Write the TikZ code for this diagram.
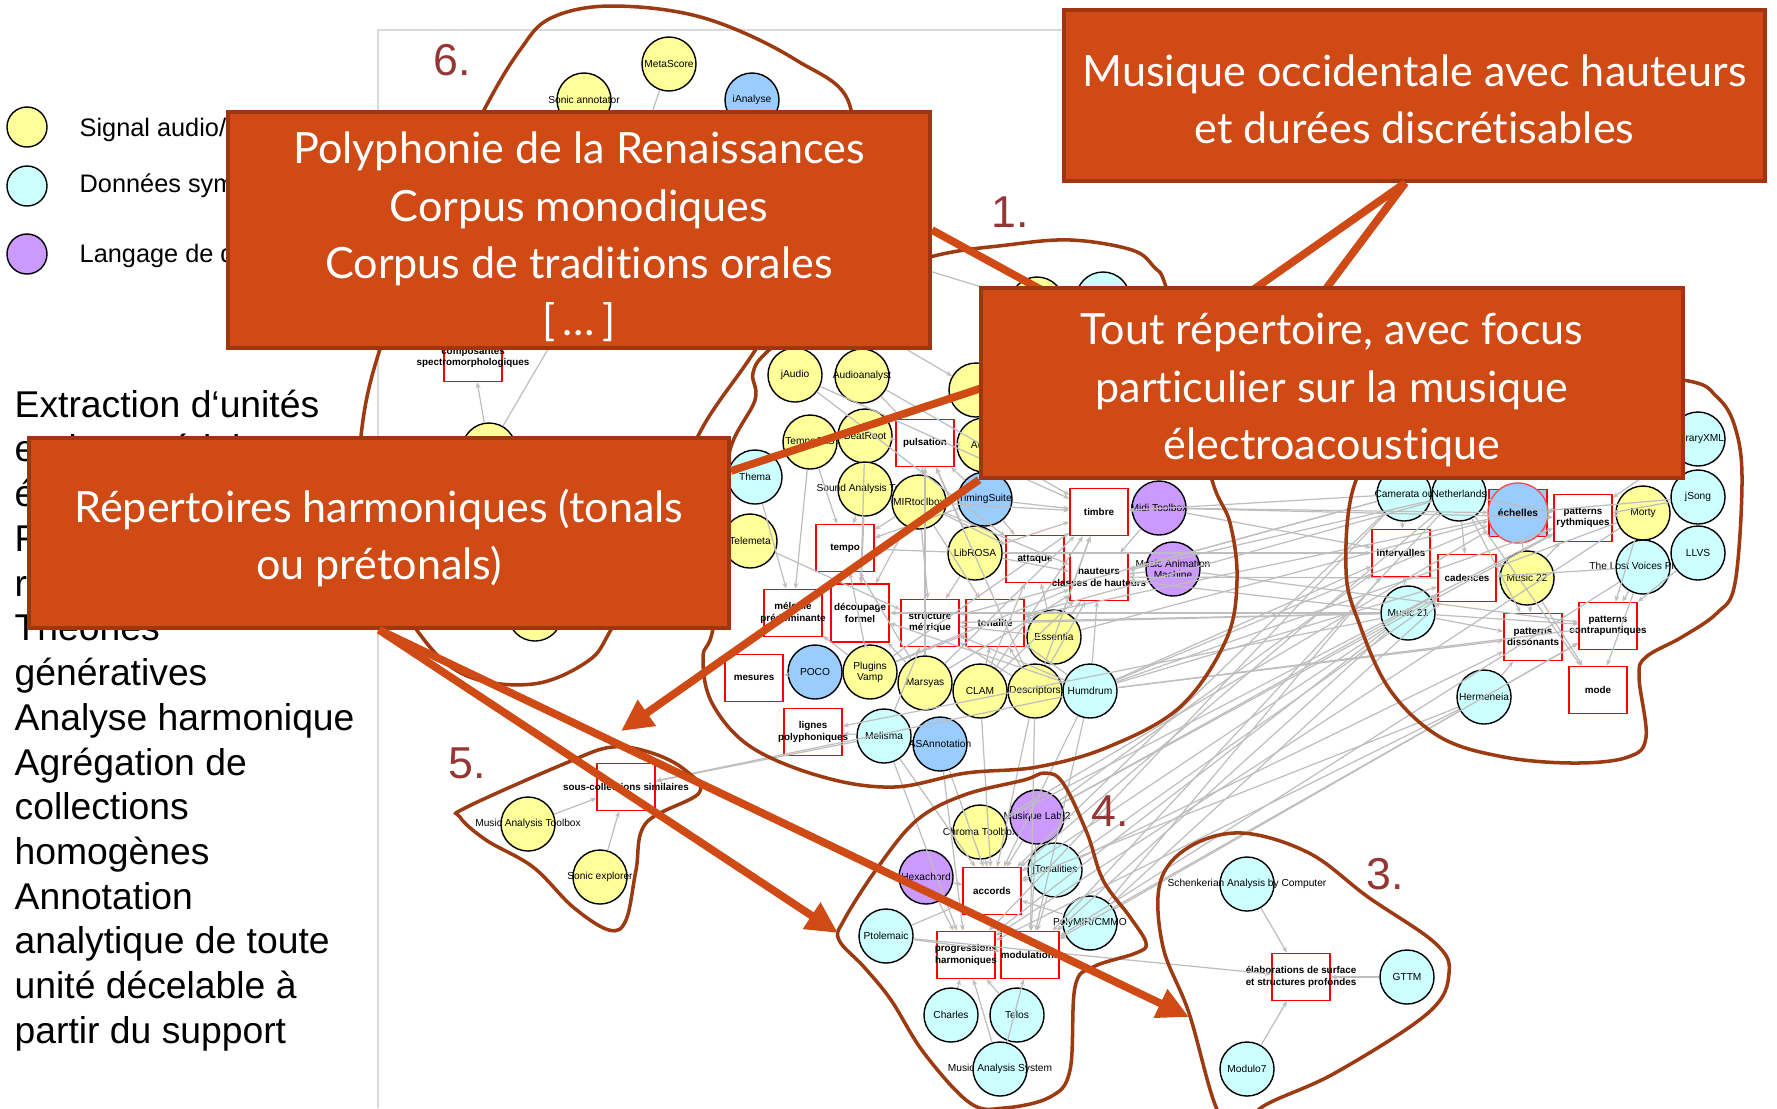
\documentclass[tikz,border=0pt]{standalone}
\usepackage{fontspec}
\usetikzlibrary{arrows.meta}
\setmainfont{Liberation Sans}
\newfontfamily\calloutfont[Ligatures=NoCommon]{Lato}

\definecolor{audioyellow}{HTML}{FFFF99}
\definecolor{symbcyan}{HTML}{CCFFFF}
\definecolor{langpurple}{HTML}{CC99FF}
\definecolor{annotblue}{HTML}{99CCFF}
\definecolor{calloutfill}{HTML}{D04A16}
\definecolor{calloutline}{HTML}{A0360F}
\definecolor{blobline}{HTML}{9C3A12}
\definecolor{numred}{HTML}{943634}
\definecolor{edgegray}{HTML}{BEBEBE}

\newcommand{\lb}[1]{\makebox[0pt]{#1}}

\begin{document}
\begin{tikzpicture}[x=0.01cm,y=-0.01cm]
    \tikzstyle{edge}=[draw=edgegray,line width=0.35pt,-{Stealth[length=1.7pt,width=1.4pt]}]
    \tikzstyle{circ}=[circle,line width=0.4pt,draw=black,minimum size=0.54cm,inner sep=0pt,align=center,font=\fontsize{2.9}{3.2}\selectfont]
    \tikzstyle{audio}=[circ,fill=audioyellow]
    \tikzstyle{symb}=[circ,fill=symbcyan]
    \tikzstyle{langage}=[circ,fill=langpurple]
    \tikzstyle{annot}=[circ,fill=annotblue]
    \tikzstyle{notion}=[rectangle,line width=0.45pt,draw=red,fill=white,minimum width=0.58cm,minimum height=0.47cm,inner sep=0pt,align=center,font=\fontsize{2.8}{3.2}\selectfont\bfseries]
    \tikzstyle{blob}=[draw=blobline,line width=1pt]
    \tikzstyle{callout}=[rectangle,draw=calloutline,fill=calloutfill,line width=1pt,inner sep=0pt]
    \tikzstyle{callouttext}=[text=white,inner sep=0pt,align=center,font=\calloutfont\fontsize{12.25}{16.3}\selectfont]
    \tikzstyle{pointer}=[draw=calloutfill,line width=2.2pt]
    \tikzstyle{pointerarrow}=[pointer,-{Triangle[length=9pt,width=8.5pt]}]
    \tikzstyle{number}=[text=numred,font=\fontsize{12.7}{14}\selectfont]
    \tikzstyle{legend}=[anchor=west,inner sep=0pt,font=\fontsize{7.2}{9}\selectfont]
    \tikzstyle{legendcirc}=[circle,line width=0.4pt,draw=black,minimum size=0.4cm,inner sep=0pt]

    \useasboundingbox (0,0) rectangle (1777,1108);

    \draw[draw=black!15,line width=0.4pt] (378,1108) -- (378,30) -- (1064,30);

    \node[legendcirc,fill=audioyellow] (legaudio) at (27,127) {};
    \node[legendcirc,fill=symbcyan]    (legsymb)  at (27,186) {};
    \node[legendcirc,fill=langpurple]  (leglang)  at (27,254) {};
    \node[legend] (txtaudio) at (79,130) {Signal audio/};
    \node[legend] (txtsymb)  at (79,186) {Données symboliques};
    \node[legend] (txtlang)  at (79,256) {Langage de description};

    \node[anchor=north west,inner sep=0pt,align=left,font=\fontsize{10.6}{12.72}\selectfont] (tasks) at (14,389) {%
        Extraction d‘unités\\et de matériel\\é\\R\\r\\Théories\\génératives\\Analyse harmonique\\Agrégation de\\collections\\homogènes\\Annotation\\analytique de toute\\unité décelable à\\partir du support};

    \node[audio] (metascore) at (669,64)  {\lb{MetaScore}};
    \node[audio] (sonicann)  at (584,100) {\lb{Sonic annotator}};
    \node[annot] (ianalyse)  at (752,100) {\lb{iAnalyse}};
    \node[notion] (compo)    at (473,358) {\lb{composantes}\\\lb{spectromorphologiques}};
    \node[audio] (sixa)      at (489,450) {};
    \node[audio] (sixb)      at (535,614) {};
    \coordinate (sixhub) at (600,260);
    \coordinate (sixout) at (600,170);

    \node[audio] (topa)      at (1037,304) {};
    \node[symb]  (topb)      at (1103,299) {};
    \node[audio] (jaudio)    at (795,375)  {\lb{jAudio}};
    \node[audio] (audiolab)  at (862,376)  {\lb{Audioanalyst}};
    \node[audio] (hidden)    at (976,390)  {};
    \node[audio] (tarsos)    at (810,442)  {\lb{TempoJAS}};
    \node[audio] (beatroot)  at (865,436)  {\lb{BeatRoot}};
    \node[notion] (pulsation) at (925,443) {\lb{pulsation}};
    \node[audio] (aubio)     at (984,445)  {\lb{Aubio}};
    \node[symb]  (thema)     at (755,477)  {\lb{Thema}};
    \node[audio] (telemeta)  at (750,541)  {\lb{Telemeta}};
    \node[audio] (sat)       at (865,489)  {\lb{Sound Analysis Tools}};
    \node[audio] (mirtool)   at (919,502)  {\lb{MIRtoolbox}};
    \node[annot] (timing)    at (985,499)  {\lb{TimingSuite}};
    \node[notion] (timbre)   at (1099,512) {\lb{timbre}};
    \node[langage] (midit)   at (1159,508) {\lb{Midi Toolbox}};
    \node[notion] (tempo)    at (845,548)  {\lb{tempo}};
    \node[audio] (librosa)   at (975,553)  {\lb{LibROSA}};
    \node[notion] (attaque)  at (1035,559) {\lb{attaque}};
    \node[notion] (hauteurs) at (1099,577) {\lb{hauteurs}\\\lb{classes de hauteurs}};
    \node[langage] (mam)     at (1173,569) {\lb{Music Animation}\\\lb{Machine}};
    \node[notion] (melodie)  at (793,613)  {\lb{mélodie}\\\lb{prédominante}};
    \node[notion,minimum height=0.58cm] (decoupage) at (860,613) {\lb{découpage}\\\lb{formel}};
    \node[notion] (structure) at (930,623) {\lb{structure}\\\lb{métrique}};
    \node[notion] (tonalite) at (995,623)  {\lb{tonalité}};
    \node[audio] (essentia)  at (1054,637) {\lb{Essentia}};
    \node[notion] (mesures)  at (754,678)  {\lb{mesures}};
    \node[annot] (poco)      at (815,672)  {\lb{POCO}};
    \node[audio] (vamp)      at (870,672)  {\lb{Plugins}\\\lb{Vamp}};
    \node[audio] (marsyas)   at (925,683)  {\lb{Marsyas}};
    \node[audio] (clam)      at (980,691)  {\lb{CLAM}};
    \node[audio] (descr)     at (1035,691) {\lb{Descriptors}};
    \node[symb]  (humdrum)   at (1090,691) {\lb{Humdrum}};
    \node[notion] (lignes)   at (813,732)  {\lb{lignes}\\\lb{polyphoniques}};
    \node[symb]  (melisma)   at (884,736)  {\lb{Melisma}};
    \node[annot] (asann)     at (940,744)  {\lb{ASAnnotation}};

    \node[symb]  (xml)       at (1698,439) {\lb{LibraryXML}};
    \node[symb]  (jsong)     at (1698,497) {\lb{jSong}};
    \node[audio] (morty)     at (1643,513) {\lb{Morty}};
    \node[symb]  (lost)      at (1643,567) {\lb{The Lost Voices Project}};
    \node[symb]  (llvs)      at (1698,553) {\lb{LLVS}};
    \node[symb]  (calcul)    at (1404,494) {\lb{Camerata ou}};
    \node[symb]  (neth)      at (1459,494) {\lb{Netherlands}};
    \node[notion,fill=annotblue] (echbox) at (1518,513) {};
    \node[annot,draw=red!70,minimum size=0.6cm] (echelles) at (1518,513) {\lb{\bfseries échelles}};
    \node[notion] (patrhy)   at (1583,518) {\lb{patterns}\\\lb{rythmiques}};
    \node[notion] (intervalles) at (1401,553) {\lb{intervalles}};
    \node[notion] (cadences) at (1467,578) {\lb{cadences}};
    \node[audio] (music22)   at (1527,578) {\lb{Music 22}};
    \node[symb]  (music21)   at (1408,613) {\lb{Music 21}};
    \node[notion] (patdis)   at (1533,637) {\lb{patterns}\\\lb{dissonants}};
    \node[notion] (patcon)   at (1608,626) {\lb{patterns}\\\lb{contrapuntiques}};
    \node[symb]  (hermeneia) at (1484,697) {\lb{Hermeneia}};
    \node[notion] (mode)     at (1598,690) {\lb{mode}};

    \node[notion] (souscoll) at (626,787)  {\lb{sous-collections similaires}};
    \node[audio] (matoolbox) at (528,824)  {\lb{Music Analysis Toolbox}};
    \node[audio] (sonicexp)  at (600,877)  {\lb{Sonic explorer}};

    \node[audio] (chroma)    at (980,832)  {\lb{Chroma Toolbox}};
    \node[langage] (muslab)  at (1037,817) {\lb{Musique Lab 2}};
    \node[symb]  (tonalities) at (1055,870) {\lb{jTonalities}};
    \node[langage] (hexachord) at (926,877) {\lb{Hexachord}};
    \node[notion] (accords)  at (992,891)  {\lb{accords}};
    \node[symb]  (polymir)   at (1090,923) {\lb{PolyMIR/CMMO}};
    \node[symb]  (ptolemaic) at (886,936)  {\lb{Ptolemaic}};
    \node[notion] (progress) at (966,955)  {\lb{progressions}\\\lb{harmoniques}};
    \node[notion] (modul)    at (1030,955) {\lb{modulations}};
    \node[symb]  (charles)   at (951,1015) {\lb{Charles}};
    \node[symb]  (telos)     at (1017,1015) {\lb{Telos}};
    \node[symb]  (mas)       at (1000,1069) {\lb{Music Analysis System}};

    \node[symb]  (schenker)  at (1247,884) {\lb{Schenkerian Analysis by Computer}};
    \node[notion] (elab)     at (1301,977) {\lb{élaborations de surface}\\\lb{et structures profondes}};
    \node[symb]  (gttm)      at (1407,977) {\lb{GTTM}};
    \node[symb]  (modulo)    at (1247,1069) {\lb{Modulo7}};

    \path[edge] (metascore) -- (sixhub);
    \path[edge] (sonicann) -- (sixhub);
    \path[edge] (ianalyse) -- (sixhub);
    \path[edge] (sixa) -- (compo);
    \path[edge] (sixa) -- (sixhub);
    \path[edge] (sixout) -- (topa);
    \path[edge] (sixout) -- (hidden);

    \path[edge] (beatroot) -- (pulsation);
    \path[edge] (audiolab) -- (pulsation);
    \path[edge] (aubio) -- (pulsation);
    \path[edge] (mirtool) -- (pulsation);
    \path[edge] (timing) -- (pulsation);
    \path[edge] (librosa) -- (pulsation);
    \path[edge] (marsyas) -- (pulsation);
    \path[edge] (descr) -- (pulsation);
    \path[edge] (tarsos) -- (tempo);
    \path[edge] (sat) -- (tempo);
    \path[edge] (thema) -- (melodie);
    \path[edge] (mirtool) -- (tempo);
    \path[edge] (timing) -- (tempo);
    \path[edge] (librosa) -- (tempo);
    \path[edge] (marsyas) -- (tempo);
    \path[edge] (vamp) -- (tempo);
    \path[edge] (beatroot) -- (decoupage);
    \path[edge] (sat) -- (decoupage);
    \path[edge] (mirtool) -- (decoupage);
    \path[edge] (marsyas) -- (decoupage);
    \path[edge] (vamp) -- (decoupage);
    \path[edge] (humdrum) -- (decoupage);
    \path[edge] (telemeta) -- (structure);
    \path[edge] (tarsos) -- (melodie);
    \path[edge] (vamp) -- (melodie);
    \path[edge] (jaudio) -- (timbre);
    \path[edge] (audiolab) -- (timbre);
    \path[edge] (mirtool) -- (timbre);
    \path[edge] (timing) -- (timbre);
    \path[edge] (librosa) -- (timbre);
    \path[edge] (essentia) -- (timbre);
    \path[edge] (marsyas) -- (timbre);
    \path[edge] (clam) -- (timbre);
    \path[edge] (descr) -- (timbre);
    \path[edge] (vamp) -- (timbre);
    \path[edge] (midit) -- (timbre);
    \path[edge] (mirtool) -- (attaque);
    \path[edge] (timing) -- (attaque);
    \path[edge] (essentia) -- (attaque);
    \path[edge] (clam) -- (attaque);
    \path[edge] (jaudio) -- (attaque);
    \path[edge] (mirtool) -- (hauteurs);
    \path[edge] (librosa) -- (hauteurs);
    \path[edge] (midit) -- (hauteurs);
    \path[edge] (mam) -- (hauteurs);
    \path[edge] (essentia) -- (hauteurs);
    \path[edge] (marsyas) -- (hauteurs);
    \path[edge] (clam) -- (hauteurs);
    \path[edge] (descr) -- (hauteurs);
    \path[edge] (vamp) -- (hauteurs);
    \path[edge] (humdrum) -- (hauteurs);
    \path[edge] (mirtool) -- (structure);
    \path[edge] (librosa) -- (structure);
    \path[edge] (essentia) -- (structure);
    \path[edge] (descr) -- (structure);
    \path[edge] (humdrum) -- (structure);
    \path[edge] (melisma) -- (structure);
    \path[edge] (mirtool) -- (tonalite);
    \path[edge] (essentia) -- (tonalite);
    \path[edge] (clam) -- (tonalite);
    \path[edge] (descr) -- (tonalite);
    \path[edge] (vamp) -- (tonalite);
    \path[edge] (humdrum) -- (tonalite);
    \path[edge] (poco) -- (mesures);
    \path[edge] (melisma) -- (lignes);
    \path[edge] (music21) -- (lignes);

    \path[edge] (humdrum) -- (intervalles);
    \path[edge] (humdrum) -- (cadences);
    \path[edge] (humdrum) -- (echbox);
    \path[edge] (humdrum) -- (patrhy);
    \path[edge] (humdrum) -- (patdis);
    \path[edge] (humdrum) -- (patcon);
    \path[edge] (midit) -- (intervalles);
    \path[edge] (midit) -- (echbox);
    \path[edge] (midit) -- (patrhy);
    \path[edge] (cadences) -- (hauteurs);
    \path[edge] (mam) -- (patcon);
    \path[edge] (essentia) -- (echbox);
    \path[edge] (librosa) -- (intervalles);
    \path[edge] (music21) -- (hauteurs);
    \path[edge] (calcul) -- (hauteurs);
    \path[edge] (neth) -- (hauteurs);
    \path[edge] (calcul) -- (timbre);
    \path[edge] (music21) -- (tonalite);
    \path[edge] (music21) -- (structure);
    \path[edge] (music21) -- (decoupage);
    \path[edge] (neth) -- (tonalite);
    \path[edge] (echbox) -- (tonalite);
    \path[edge] (calcul) -- (structure);

    \path[edge] (calcul) -- (intervalles);
    \path[edge] (neth) -- (cadences);
    \path[edge] (neth) -- (patdis);
    \path[edge] (neth) -- (mode);
    \path[edge] (neth) -- (patrhy);
    \path[edge] (music22) -- (patdis);
    \path[edge] (music22) -- (patrhy);
    \path[edge] (music22) -- (mode);
    \path[edge] (music22) -- (echbox);
    \path[edge] (morty) -- (patrhy);
    \path[edge] (morty) -- (patcon);
    \path[edge] (morty) -- (cadences);
    \path[edge] (lost) -- (patcon);
    \path[edge] (lost) -- (mode);
    \path[edge] (lost) -- (cadences);
    \path[edge] (llvs) -- (patcon);
    \path[edge] (jsong) -- (patrhy);
    \path[edge] (jsong) -- (echbox);
    \path[edge] (xml) -- (patrhy);
    \path[edge] (music21) -- (patdis);
    \path[edge] (music21) -- (patcon);
    \path[edge] (music21) -- (cadences);
    \path[edge] (music21) -- (intervalles);
    \path[edge] (hermeneia) -- (patdis);
    \path[edge] (hermeneia) -- (patcon);

    \path[edge] (hermeneia) -- (modul);
    \path[edge] (hermeneia) -- (accords);
    \path[edge] (hermeneia) -- (progress);
    \path[edge] (music21) -- (modul);
    \path[edge] (music21) -- (accords);
    \path[edge] (music21) -- (progress);
    \path[edge] (calcul) -- (accords);
    \path[edge] (neth) -- (accords);
    \path[edge] (calcul) -- (progress);
    \path[edge] (neth) -- (modul);
    \path[edge] (morty) -- (progress);
    \path[edge] (lost) -- (modul);
    \path[edge] (polymir) -- (cadences);
    \path[edge] (polymir) -- (intervalles);
    \path[edge] (polymir) -- (patcon);
    \path[edge] (muslab) -- (intervalles);
    \path[edge] (muslab) -- (patrhy);
    \path[edge] (muslab) -- (cadences);
    \path[edge] (tonalities) -- (cadences);
    \path[edge] (tonalities) -- (patdis);
    \path[edge] (chroma) -- (echbox);
    \path[edge] (chroma) -- (patrhy);

    \path[edge] (melisma) -- (progress);
    \path[edge] (melisma) -- (accords);
    \path[edge] (asann) -- (accords);
    \path[edge] (asann) -- (progress);
    \path[edge] (humdrum) -- (accords);
    \path[edge] (humdrum) -- (modul);
    \path[edge] (descr) -- (accords);
    \path[edge] (clam) -- (accords);
    \path[edge] (descr) -- (modul);
    \path[edge] (humdrum) -- (souscoll);
    \path[edge] (melisma) -- (souscoll);
    \path[edge] (matoolbox) -- (souscoll);
    \path[edge] (sonicexp) -- (souscoll);

    \path[edge] (chroma) -- (accords);
    \path[edge] (muslab) -- (accords);
    \path[edge] (hexachord) -- (accords);
    \path[edge] (tonalities) -- (accords);
    \path[edge] (polymir) -- (accords);
    \path[edge] (ptolemaic) -- (accords);
    \path[edge] (hexachord) -- (progress);
    \path[edge] (muslab) -- (modul);
    \path[edge] (tonalities) -- (modul);
    \path[edge] (polymir) -- (modul);
    \path[edge] (ptolemaic) -- (modul);
    \path[edge] (charles) -- (progress);
    \path[edge] (telos) -- (progress);
    \path[edge] (mas) -- (modul);
    \path[edge] (mas) -- (progress);

    \path[edge] (schenker) -- (elab);
    \path[edge] (gttm) -- (elab);
    \path[edge] (modulo) -- (elab);
    \path[edge] (ptolemaic) -- (elab);

    \draw[blob] plot [smooth cycle,tension=0.6] coordinates {(484,110) (520,50) (551,18) (612,6) (704,18) (796,60) (851,110) (830,230) (756,349) (698,436) (660,540) (612,628) (588,661) (533,684) (465,675) (416,629) (360,530) (361,436) (380,349) (430,220)};
    \draw[blob] plot [smooth cycle,tension=0.6] coordinates {(930,257) (1007,245) (1071,240) (1132,250) (1154,267) (1166,287) (1190,380) (1212,480) (1230,523) (1237,580) (1226,640) (1180,707) (1108,747) (1037,767) (966,773) (894,787) (823,777) (751,747) (712,703) (703,657) (713,628) (725,520) (730,450) (755,400) (753,373) (769,350) (840,290)};
    \draw[blob] plot [smooth cycle,tension=0.6] coordinates {(1683,380) (1717,397) (1735,427) (1742,480) (1735,583) (1717,613) (1682,637) (1646,657) (1639,677) (1646,737) (1628,757) (1575,763) (1504,757) (1440,737) (1390,690) (1359,623) (1346,570) (1355,483) (1400,420) (1550,370)};
    \draw[blob] plot [smooth cycle,tension=0.6] coordinates {(1242,833) (1189,847) (1160,883) (1163,947) (1189,1013) (1216,1107) (1240,1135) (1262,1107) (1335,1073) (1428,1013) (1449,973) (1435,943) (1368,897) (1309,853)};
    \draw[blob] plot [smooth cycle,tension=0.6] coordinates {(1045,773) (1063,783) (1087,833) (1103,880) (1130,917) (1146,943) (1136,953) (1093,967) (1075,987) (1070,1070) (1050,1097) (1004,1108) (970,1103) (924,1053) (891,1000) (864,967) (839,940) (844,920) (878,867) (917,820) (964,795) (1024,780)};
    \draw[blob] plot [smooth cycle,tension=0.6] coordinates {(612,747) (566,763) (467,807) (460,817) (486,840) (533,867) (573,907) (609,930) (626,920) (636,870) (646,823) (699,793) (685,770) (652,753)};

    \node[number] (num6) at (452,60)   {6.};
    \node[number] (num1) at (1010,212) {1.};
    \node[number] (num5) at (467,763)  {5.};
    \node[number] (num4) at (1110,811) {4.};
    \node[number] (num3) at (1385,874) {3.};

    \node[callout,minimum width=7.01cm,minimum height=1.71cm] (boxa) at (1414.5,95.5) {};
    \node[callouttext] (texta) at (1414.5,99) {Musique occidentale avec hauteurs\\et durées discrétisables};
    \node[callout,minimum width=7.02cm,minimum height=2.36cm] (boxb) at (579,230) {};
    \node[callouttext] (textb) at (579,237) {Polyphonie de la Renaissances\\Corpus monodiques\\Corpus de traditions orales\\{[\,\dots\,]}};
    \node[callout,minimum width=7.00cm,minimum height=1.90cm] (boxc) at (379,533) {};
    \node[callouttext] (textc) at (379,538) {Répertoires harmoniques (tonals\\ou prétonals)};

    \coordinate (tipa) at (1230,306);
    \coordinate (tipb) at (1310,310);
    \coordinate (tipc) at (1060,300);
    \coordinate (tipd) at (1000,382);
    \coordinate (tipfive) at (621,731);
    \coordinate (tipfour) at (838,933);
    \coordinate (tipthree) at (1189,1017);

    \path[pointer] (boxa.-96) -- (tipa);
    \path[pointer] (boxa.-96) -- (tipb);
    \path[pointer] (boxb.east) -- (tipc);
    \path[pointer] (boxc.10.5) -- (tipd);
    \path[pointerarrow] (boxc.south) -- (tipfour);
    \path[pointerarrow] (boxc.south) -- (tipthree);

    \node[callout,minimum width=7.02cm,minimum height=1.90cm] (boxd) at (1332,383) {};
    \node[callouttext] (textd) at (1332,390) {Tout répertoire, avec focus\\particulier sur la musique\\électroacoustique};

    \path[pointerarrow] (boxd.south west) -- (tipfive);
\end{tikzpicture}
\end{document}
